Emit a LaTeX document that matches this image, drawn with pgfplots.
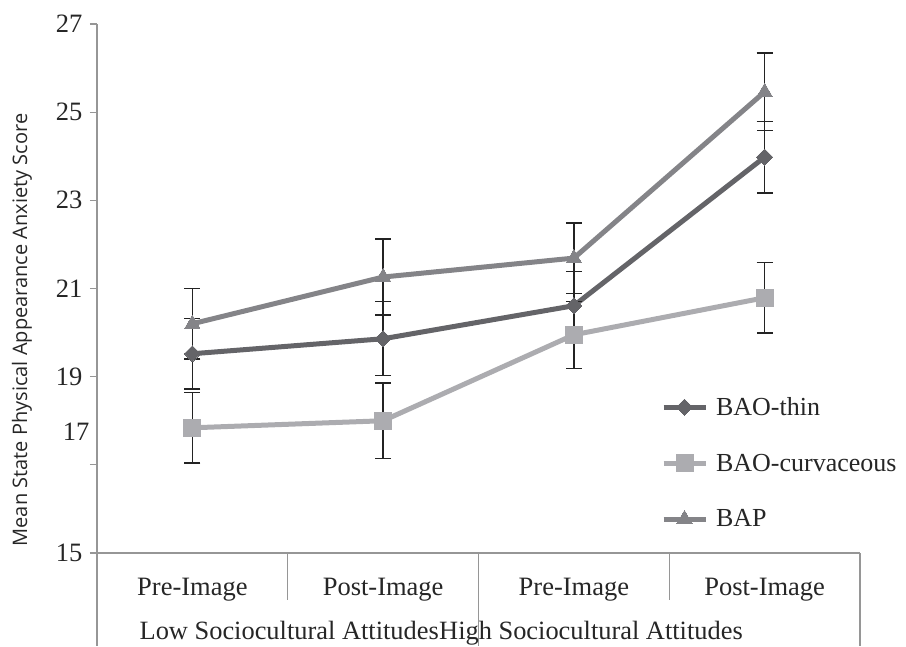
\documentclass[border=0pt]{standalone}
\usepackage{pgfplots}
\pgfplotsset{compat=1.18}
\usepackage{fontspec}
\setmainfont{Liberation Serif}
\newfontfamily\labelfont{Open Sans}

\definecolor{thinc}{RGB}{100,100,104}
\definecolor{curvc}{RGB}{172,172,176}
\definecolor{bapc}{RGB}{132,132,136}
\definecolor{axc}{RGB}{150,150,150}
\definecolor{errc}{RGB}{35,35,35}

\begin{document}
\begin{tikzpicture}
\useasboundingbox (0,0) rectangle (906pt,646pt);

\begin{axis}[
    at={(97pt,93pt)}, anchor=south west,
    scale only axis,
    width=763pt, height=529pt,
    clip=false,
    xmin=-0.5, xmax=3.5,
    ymin=15, ymax=27,
    axis x line*=bottom, axis y line*=left,
    axis line style={axc, line width=1.3pt, -},
    xtick={0,1,2,3},
    xticklabels={Pre-Image,Post-Image,Pre-Image,Post-Image},
    major x tick style={draw=none},
    xticklabel style={yshift=-15pt},
    ytick={15,17,19,21,23,25,27},
    yticklabels={15,,19,21,23,25,27},
    extra y ticks={17.75},
    extra y tick labels={17},
    extra y tick style={major tick length=0pt},
    major y tick style={axc, line width=1.3pt},
    tick align=outside,
    major tick length=7pt,
    yticklabel style={xshift=-4pt},
    /pgf/number format/assume math mode=true,
    tick label style={font=\fontsize{26.5}{30}\selectfont, text=black!85},
    legend style={draw=none, fill=none, at={(0.735,0.302)}, anchor=north west,
        font=\fontsize{26}{30}\selectfont, row sep=33pt, column sep=6pt, text=black!85},
    legend cell align=left,
    legend image code/.code={
        \draw[#1, mark repeat=2, mark phase=2] plot coordinates {(0pt,0pt) (21pt,0pt) (42pt,0pt)};
    },
    error bars/y dir=both, error bars/y explicit,
    error bars/error bar style={errc, line width=1.4pt},
    error bars/error mark options={rotate=90, errc, line width=1.4pt, mark size=8pt},
]

\addplot[thinc, line width=5pt, mark=square*, mark size=5.7pt,
    mark options={rotate=45, solid, line width=0pt}]
    coordinates {
    (0,19.52) +- (0,0.80)
    (1,19.86) +- (0,0.84)
    (2,20.61) +- (0,0.78)
    (3,23.98) +- (0,0.81)
    };
\addlegendentry{BAO-thin}

\addplot[curvc, line width=5pt, mark=square*, mark size=8.5pt,
    mark options={solid, line width=0pt}]
    coordinates {
    (0,17.84) +- (0,0.80)
    (1,18.00) +- (0,0.86)
    (2,19.95) +- (0,0.76)
    (3,20.79) +- (0,0.80)
    };
\addlegendentry{BAO-curvaceous}

\addplot[bapc, line width=5pt, mark=triangle*, mark size=8.7pt,
    mark options={solid, line width=0pt}]
    coordinates {
    (0,20.20) +- (0,0.80)
    (1,21.26) +- (0,0.86)
    (2,21.69) +- (0,0.80)
    (3,25.46) +- (0,0.88)
    };
\addlegendentry{BAP}

% category separators below the x axis
\draw[axc, line width=1.3pt] (axis cs:-0.5,15) -- ++(0pt,-93pt);
\draw[axc, line width=1.3pt] (axis cs:0.5,15) -- ++(0pt,-47pt);
\draw[axc, line width=1.3pt] (axis cs:1.5,15) -- ++(0pt,-93pt);
\draw[axc, line width=1.3pt] (axis cs:2.5,15) -- ++(0pt,-47pt);
\draw[axc, line width=1.3pt] (axis cs:3.5,15) -- ++(0pt,-93pt);
\end{axis}

\node[anchor=base east, inner sep=0pt, text=black!85, font=\fontsize{26.4}{30}\selectfont]
    at (439pt,6pt) {Low Sociocultural Attitudes};
\node[anchor=base west, inner sep=0pt, text=black!85, font=\fontsize{26.4}{30}\selectfont]
    at (439pt,6pt) {High Sociocultural Attitudes};

\node[rotate=90, inner sep=0pt, text=black!85, font=\labelfont\fontsize{20}{24}\selectfont]
    at (22pt,316pt) {Mean State Physical Appearance Anxiety Score};
\end{tikzpicture}
\end{document}
